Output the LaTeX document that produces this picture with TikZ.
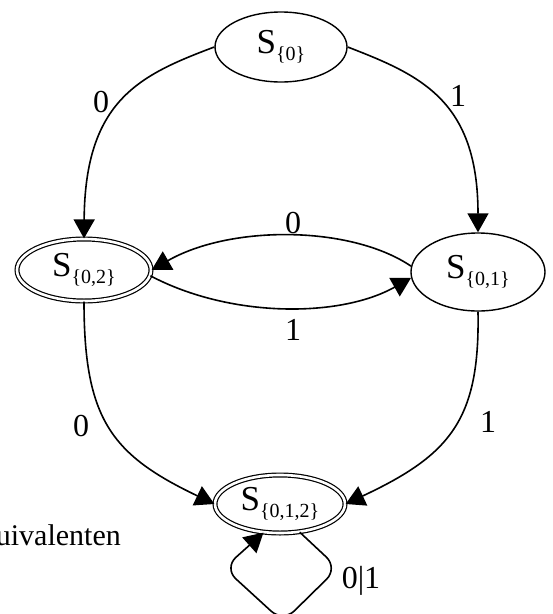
\documentclass[tikz,border=0pt]{standalone}
\usepackage{fontspec}
\setmainfont{Liberation Serif}
\usetikzlibrary{arrows.meta,shapes.geometric}
\newcommand{\stname}[1]{S\raisebox{-7pt}{\fontsize{20}{20}\selectfont\{#1\}}}
\begin{document}
\begin{tikzpicture}[x=1pt,y=-1pt,
  state/.style={ellipse, draw, line width=1.4pt, inner sep=0pt, font=\fontsize{35}{38}\selectfont},
  accept/.style={state, double, double distance=2.6pt, line width=1.2pt},
  edge/.style={line width=1.6pt, -{Triangle[length=19pt,width=21pt]}},
  lbl/.style={font=\fontsize{32}{34}\selectfont, inner sep=0pt}]
\useasboundingbox (0,0) rectangle (553,614);
\node[state, minimum width=132pt, minimum height=70pt] (s0) at (281,47) {\stname{0}};
\node[accept, minimum width=134pt, minimum height=62pt] (s02) at (84,270) {\stname{0,2}};
\node[state, minimum width=134pt, minimum height=78pt] (s01) at (478,272) {\stname{0,1}};
\node[accept, minimum width=130pt, minimum height=58pt] (s012) at (280,504) {\stname{0,1,2}};
\draw[edge] (s0.west) .. controls (140,75) and (85,100) .. (s02.north);
\draw[edge] (s0.east) .. controls (420,75) and (478,100) .. (s01.north);
\draw[edge] (s01.175) .. controls (350,225) and (230,225) .. (s02.east);
\draw[edge] (s02.-5) .. controls (230,318) and (340,318) .. (s01.185);
\draw[edge] (s02.south) .. controls (84,420) and (112,455) .. (s012.west);
\draw[edge] (s01.south) .. controls (480,420) and (450,455) .. (s012.east);
\draw[edge, rounded corners=16pt] (s012.-55) -- (338,568) -- (283,622) -- (224,568) -- (s012.-120);
\node[lbl] (l1) at (101,102) {0};
\node[lbl] (l2) at (458,96) {1};
\node[lbl] (l3) at (293,223) {0};
\node[lbl] (l4) at (293,330) {1};
\node[lbl] (l5) at (81,426) {0};
\node[lbl] (l6) at (488,422) {1};
\node[lbl] (l7) at (361,581) {0|1};
\node[anchor=base east, font=\fontsize{30}{32}\selectfont, inner sep=0pt] (stray) at (121,545) {uivalenten};
\end{tikzpicture}
\end{document}
